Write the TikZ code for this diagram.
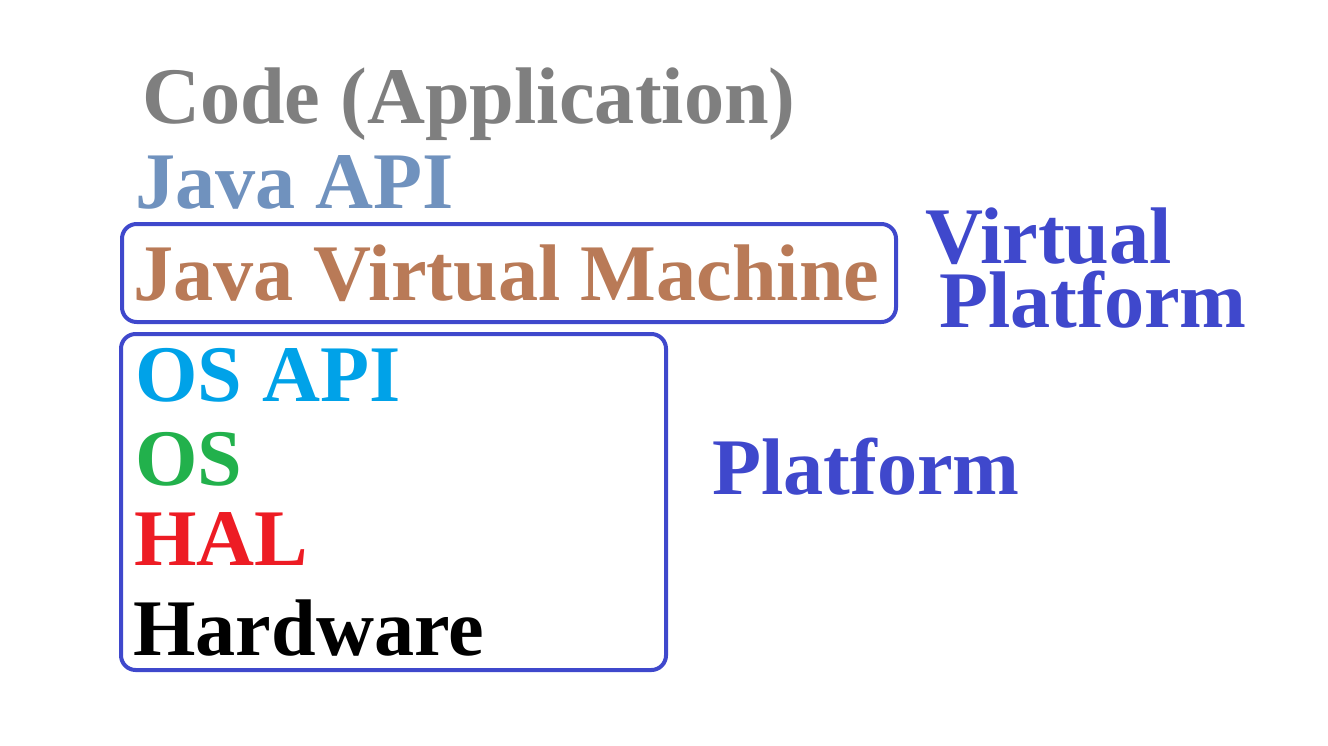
\documentclass[tikz,border=0pt]{standalone}
\usepackage{fontspec}
\setmainfont{Liberation Serif}
\definecolor{codegray}{RGB}{127,127,127}
\definecolor{apiblue}{RGB}{112,146,190}
\definecolor{jvmbrown}{RGB}{185,122,87}
\definecolor{osapiblue}{RGB}{0,162,232}
\definecolor{osgreen}{RGB}{34,177,76}
\definecolor{halred}{RGB}{237,28,36}
\definecolor{frameblue}{RGB}{63,72,204}
\tikzset{
	layer/.style={anchor=base west, inner sep=0pt, font=\fontsize{60.2}{48}\selectfont\bfseries},
	frame/.style={draw=frameblue, line width=3pt, rounded corners=11pt}
}
\begin{document}
\begin{tikzpicture}[x=0.75pt, y=-0.75pt]
	% Canvas
	\useasboundingbox (0,0) rectangle (1328,746);
	
	% Draw the software layers
	\node[layer, text=codegray] (code) at (142,123) {Code (Application)};
	\node[layer, text=apiblue] (javaapi) at (135,208) {Java API};
	\node[layer, text=jvmbrown] (jvm) at (133,300) {Java Virtual Machine};
	
	% Draw the platform layers
	\node[layer, text=osapiblue] (osapi) at (135,401) {OS API};
	\node[layer, text=osgreen] (os) at (135,485) {OS};
	\node[layer, text=halred] (hal) at (134,565) {HAL};
	\node[layer, text=black] (hw) at (133,655) {Hardware};
	
	% Draw the boxes
	\draw[frame] (122,224) rectangle (896,322);
	\draw[frame] (121,334) rectangle (666,670);
	
	% Draw the box labels (base is the last line)
	\node[layer, text=frameblue, align=left] (virtual) at (925,327) {Virtual\\\hspace*{10.5pt}Platform};
	\node[layer, text=frameblue] (platform) at (712,494) {Platform};
\end{tikzpicture}
\end{document}
